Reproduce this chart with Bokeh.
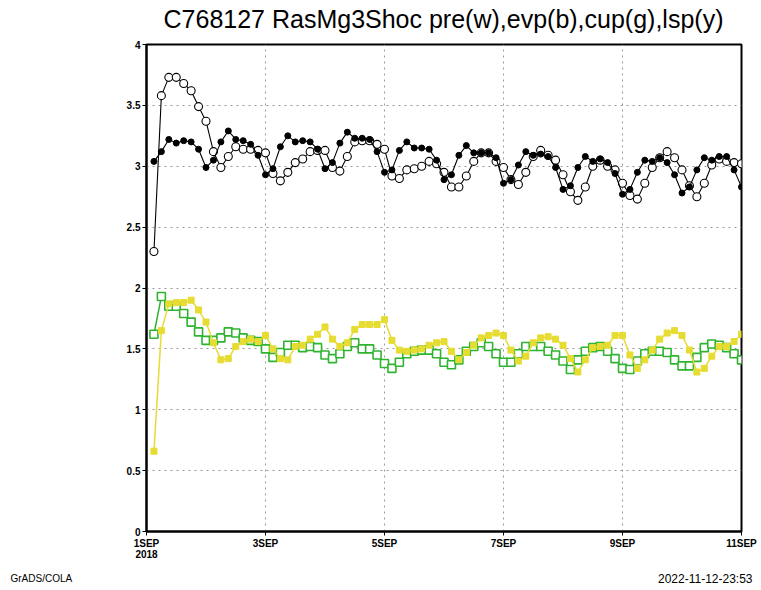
from bokeh.plotting import figure
from bokeh.models import FixedTicker, Range1d
from bokeh.layouts import column, row
from bokeh.core.properties import value
from bokeh.embed import file_html
from bokeh.resources import INLINE

# time axis: hours after 1SEP2018 00Z (3-hourly)
hours = list(range(3, 243, 3))

pre = [2.30, 3.58, 3.73, 3.73, 3.68, 3.62, 3.49, 3.37, 3.12, 2.99,
       3.08, 3.16, 3.14, 3.14, 3.13, 3.11, 2.94, 2.88, 2.95, 3.03,
       3.06, 3.12, 3.13, 3.13, 2.99, 2.96, 3.08, 3.20, 3.21, 3.21,
       3.18, 3.14, 2.92, 2.90, 2.97, 2.98, 3.00, 3.04, 3.02, 2.95,
       2.83, 2.83, 2.92, 3.04, 3.11, 3.11, 3.04, 2.99, 2.89, 2.85,
       2.95, 3.08, 3.13, 3.09, 3.05, 2.93, 2.79, 2.72, 2.83, 3.00,
       3.05, 3.00, 2.97, 2.86, 2.76, 2.73, 2.86, 2.99, 3.07, 3.12,
       3.07, 2.97, 2.84, 2.75, 2.86, 3.01, 3.06, 3.04, 3.03, 3.02]

evp = [3.04, 3.12, 3.22, 3.19, 3.21, 3.20, 3.14, 2.99, 3.05, 3.20,
       3.29, 3.22, 3.21, 3.18, 3.09, 2.93, 2.98, 3.16, 3.25, 3.20,
       3.21, 3.20, 3.14, 2.98, 3.03, 3.19, 3.28, 3.23, 3.23, 3.22,
       3.12, 2.95, 2.97, 3.13, 3.20, 3.15, 3.15, 3.14, 3.05, 2.89,
       2.93, 3.09, 3.17, 3.11, 3.11, 3.11, 3.07, 2.86, 2.89, 3.01,
       3.12, 3.09, 3.10, 3.08, 2.99, 2.81, 2.84, 2.99, 3.08, 3.04,
       3.06, 3.03, 2.94, 2.77, 2.81, 2.95, 3.05, 3.04, 3.07, 3.03,
       2.93, 2.78, 2.83, 2.97, 3.07, 3.05, 3.08, 3.08, 2.97, 2.83]

cup = [1.62, 1.93, 1.85, 1.85, 1.79, 1.72, 1.64, 1.57, 1.57, 1.59,
       1.64, 1.63, 1.59, 1.57, 1.56, 1.50, 1.43, 1.47, 1.53, 1.53,
       1.51, 1.52, 1.51, 1.45, 1.42, 1.46, 1.52, 1.55, 1.50, 1.50,
       1.45, 1.38, 1.34, 1.39, 1.46, 1.48, 1.49, 1.49, 1.46, 1.39,
       1.37, 1.41, 1.48, 1.52, 1.55, 1.52, 1.46, 1.39, 1.39, 1.46,
       1.52, 1.52, 1.52, 1.48, 1.45, 1.40, 1.33, 1.41, 1.48, 1.51,
       1.52, 1.48, 1.42, 1.34, 1.33, 1.40, 1.46, 1.48, 1.48, 1.47,
       1.41, 1.36, 1.36, 1.43, 1.51, 1.54, 1.53, 1.51, 1.46, 1.41]

lsp = [0.66, 1.65, 1.87, 1.88, 1.88, 1.90, 1.82, 1.72, 1.55, 1.41,
       1.42, 1.52, 1.56, 1.58, 1.56, 1.61, 1.50, 1.42, 1.41, 1.52,
       1.53, 1.58, 1.62, 1.68, 1.58, 1.52, 1.55, 1.66, 1.70, 1.70,
       1.70, 1.74, 1.57, 1.49, 1.48, 1.49, 1.50, 1.53, 1.55, 1.56,
       1.48, 1.41, 1.47, 1.53, 1.59, 1.61, 1.63, 1.61, 1.49, 1.40,
       1.44, 1.55, 1.59, 1.60, 1.58, 1.53, 1.42, 1.31, 1.41, 1.51,
       1.52, 1.53, 1.61, 1.61, 1.45, 1.34, 1.41, 1.49, 1.58, 1.63,
       1.65, 1.61, 1.49, 1.31, 1.34, 1.44, 1.52, 1.52, 1.56, 1.62]

x_tick_days = [0, 2, 4, 6, 8, 10]
x_tick_labels = ["1SEP\n2018", "3SEP", "5SEP", "7SEP", "9SEP", "11SEP"]
y_ticks = [0, 0.5, 1, 1.5, 2, 2.5, 3, 3.5, 4]
y_tick_labels = ["0", "0.5", "1", "1.5", "2", "2.5", "3", "3.5", "4"]

title = "C768127 RasMg3Shoc pre(w),evp(b),cup(g),lsp(y)"
footer_left = "GrADS/COLA"
footer_right = "2022-11-12-23:53"

days = [h / 24.0 for h in hours]


def strip(height):
    s = figure(width=761, height=height, output_backend="svg",
               toolbar_location=None,
               x_range=Range1d(0, 761), y_range=Range1d(0, height),
               x_axis_type=None, y_axis_type=None,
               min_border_left=0, min_border_right=0,
               min_border_top=0, min_border_bottom=0,
               outline_line_color=None,
               background_fill_color="white", border_fill_color="white")
    s.grid.visible = False
    return s


# header strip with the title
h = strip(36)
h.text(x=[443], y=[18], text=[title], text_font=value("Liberation Sans"),
       text_font_size="25px", text_baseline="middle", text_align="center",
       text_color="black")

# main plot
p = figure(width=761, height=526, output_backend="svg", toolbar_location=None,
           x_range=Range1d(0, 10), y_range=Range1d(0, 4),
           min_border_left=146, min_border_right=20,
           min_border_top=8, min_border_bottom=30,
           background_fill_color="white", border_fill_color="white")

p.outline_line_color = "black"
p.outline_line_width = 2

p.xaxis.ticker = FixedTicker(ticks=x_tick_days)
p.xaxis.major_label_overrides = dict(zip(x_tick_days, x_tick_labels))
p.yaxis.ticker = FixedTicker(ticks=y_ticks)
p.yaxis.major_label_overrides = dict(zip(y_ticks, y_tick_labels))
for ax in (p.xaxis, p.yaxis):
    ax.axis_line_color = "black"
    ax.axis_line_width = 2
    ax.major_tick_line_color = "black"
    ax.major_tick_in = 0
    ax.major_tick_out = 4
    ax.minor_tick_line_color = None
    ax.major_label_text_font = "Liberation Sans"
    ax.major_label_text_font_style = "bold"
    ax.major_label_text_font_size = "10px"
    ax.major_label_text_color = "black"
    ax.major_label_standoff = 2
p.xaxis.major_label_text_line_height = 1.0

p.xgrid.ticker = FixedTicker(ticks=[2, 4, 6, 8])
p.ygrid.ticker = FixedTicker(ticks=[0.5, 1, 1.5, 2, 2.5, 3, 3.5])
p.grid.grid_line_color = "#9a9a9a"
p.grid.grid_line_dash = "2 4"
p.grid.grid_line_width = 1

green = "#2fb42f"
yellow = "#e6dc32"

# pre (white open circles)
p.line(days, pre, line_color="black", line_width=1.1)
p.scatter(days, pre, marker="circle", size=8, fill_color="white",
          line_color="black", line_width=1.1)
# evp (black filled circles)
p.line(days, evp, line_color="black", line_width=1.1)
p.scatter(days, evp, marker="circle", size=6, fill_color="black",
          line_color="black")
# cup (green open squares)
p.line(days, cup, line_color=green, line_width=1.5)
p.scatter(days, cup, marker="square", size=8, fill_color="white",
          line_color=green, line_width=1.6)
# lsp (yellow filled squares)
p.line(days, lsp, line_color=yellow, line_width=1.5)
p.scatter(days, lsp, marker="square", size=6, fill_color=yellow,
          line_color=yellow)

# footer strip
f = strip(28)
f.text(x=[10], y=[12], text=[footer_left], text_font=value("Liberation Sans"),
       text_font_size="10px", text_baseline="middle", text_align="left",
       text_color="black")
f.text(x=[752], y=[12], text=[footer_right], text_font=value("Liberation Sans"),
       text_font_size="12px", text_baseline="middle", text_align="right",
       text_color="black")

layout = column(row(h, spacing=0), p, row(f, spacing=0), spacing=0)
open("out.html", "w").write(file_html(layout, INLINE))
